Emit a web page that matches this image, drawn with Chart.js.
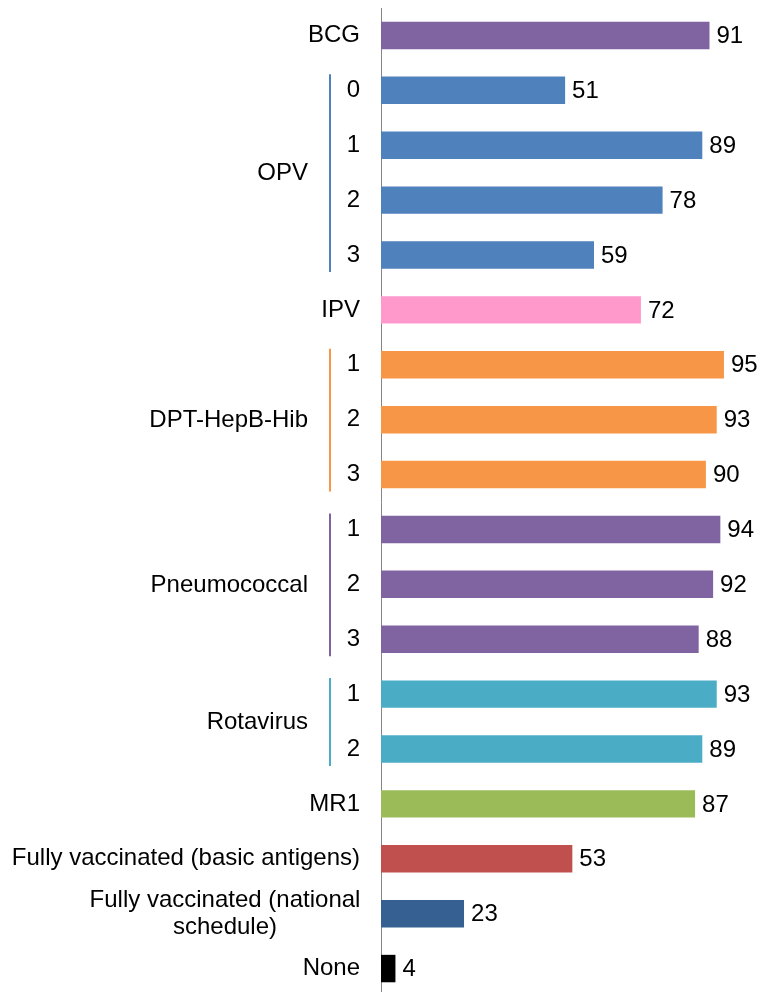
<!DOCTYPE html>
<html>
<head>
<meta charset="utf-8">
<script src="https://cdn.jsdelivr.net/npm/chart.js@4.4.1/dist/chart.umd.min.js"></script>
<style>
html,body{margin:0;padding:0;background:#fff;overflow:hidden}
</style>
</head>
<body>
<canvas id="vacc" width="763" height="996"></canvas>
<script>
// one entry per bar, top to bottom
var tickLabels = ['BCG','0','1','2','3','IPV','1','2','3','1','2','3','1','2','MR1',
    'Fully vaccinated (basic antigens)','', 'None']
var values = [91,51,89,78,59,72,95,93,90,94,92,88,93,89,87,53,23,4]
var barColors = ['#8064A2','#4F81BD','#4F81BD','#4F81BD','#4F81BD','#FF99CC',
    '#F79646','#F79646','#F79646','#8064A2','#8064A2','#8064A2',
    '#4BACC6','#4BACC6','#9BBB59','#C0504D','#376092','#000000']
// grouped categories: name, first bar, last bar
var groupNames = ['OPV','DPT-HepB-Hib','Pneumococcal','Rotavirus']
var groupFrom = [1,6,9,12]
var groupTo = [4,8,11,13]
var groupColors = ['#4F81BD','#F79646','#8064A2','#4BACC6']
// label drawn on two lines, centred
var wrapIndex = 16
var wrapLines = ['Fully vaccinated (national','schedule)']

var FAMILY = '"Liberation Sans", Arial, sans-serif'
var FONT = '24px ' + FAMILY

var extras = {
    id:'extras',
    afterDatasetsDraw(chart){
        var ctx = chart.ctx
        var ys = chart.scales.y
        var meta = chart.getDatasetMeta(0)
        ctx.save()
        ctx.font = FONT
        ctx.fillStyle = '#000'
        ctx.textBaseline = 'middle'
        // value labels
        ctx.textAlign = 'left'
        meta.data.forEach((bar,i)=>{
            ctx.fillText(values[i], bar.x + 7, bar.y + 1)
        })
        // group names + bracket lines
        for(var g = 0; g < groupNames.length; g++){
            var y1 = ys.getPixelForValue(groupFrom[g])
            var y2 = ys.getPixelForValue(groupTo[g])
            ctx.textAlign = 'right'
            ctx.fillStyle = '#000'
            ctx.fillText(groupNames[g], 308, (y1 + y2) / 2 + 1)
            ctx.strokeStyle = groupColors[g]
            ctx.lineWidth = 2
            ctx.beginPath()
            ctx.moveTo(330, y1 - 16)
            ctx.lineTo(330, y2 + 17)
            ctx.stroke()
        }
        // wrapped label
        var yw = ys.getPixelForValue(wrapIndex)
        ctx.textAlign = 'center'
        ctx.fillStyle = '#000'
        ctx.fillText(wrapLines[0], 225, yw - 13)
        ctx.fillText(wrapLines[1], 225, yw + 14)
        ctx.restore()
    }
}

var chart = new Chart(document.getElementById('vacc').getContext('2d'), {
    type:'bar',
    plugins:[extras],
    data:{
        labels:tickLabels,
        datasets:[{
            data:values,
            backgroundColor:barColors,
            borderWidth:0,
            barPercentage:0.5,
            categoryPercentage:1
        }]
    },
    options:{
        indexAxis:'y',
        responsive:false,
        animation:false,
        layout:{
            padding:{top:8, right:21, bottom:0, left:0}
        },
        plugins:{
            legend:{display:false},
            tooltip:{enabled:false}
        },
        scales:{
            x:{
                display:false,
                min:0,
                max:100
            },
            y:{
                afterFit:(s)=>{
                    s.width = 381
                    s.paddingTop = 0
                    s.paddingBottom = 0
                },
                grid:{
                    display:false,
                    drawTicks:false
                },
                border:{
                    display:true,
                    color:'#868686',
                    width:1
                },
                ticks:{
                    autoSkip:false,
                    padding:21,
                    color:'#000',
                    font:{family:FAMILY, size:24}
                }
            }
        }
    }
})
</script>
</body>
</html>
